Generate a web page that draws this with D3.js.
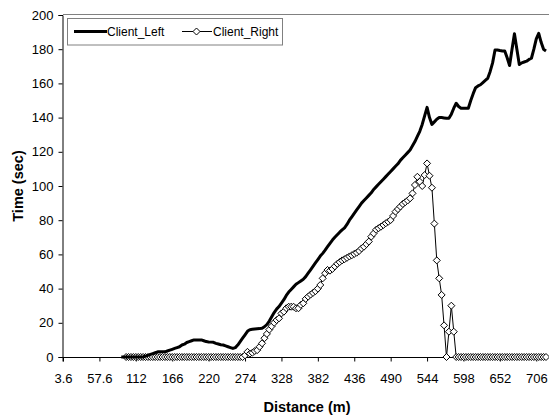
<!DOCTYPE html>
<html><head><meta charset="utf-8">
<script src="https://cdn.jsdelivr.net/npm/d3@7"></script>
<style>body{margin:0;background:#fff}svg{display:block}text{font-family:"Liberation Sans",Arial,sans-serif}</style>
</head><body><svg id="c" width="549" height="419"></svg>
<script>
// category distances (m): 3.6 .. 720 step 3.6 (200 categories)
const distances = [3.6,7.2,10.8,14.4,18,21.6,25.2,28.8,32.4,36,39.6,43.2,46.8,50.4,54,57.6,61.2,64.8,68.4,72,75.6,79.2,82.8,86.4,90,93.6,97.2,100.8,104.4,108,111.6,115.2,118.8,122.4,126,129.6,133.2,136.8,140.4,144,147.6,151.2,154.8,158.4,162,165.6,169.2,172.8,176.4,180,183.6,187.2,190.8,194.4,198,201.6,205.2,208.8,212.4,216,219.6,223.2,226.8,230.4,234,237.6,241.2,244.8,248.4,252,255.6,259.2,262.8,266.4,270,273.6,277.2,280.8,284.4,288,291.6,295.2,298.8,302.4,306,309.6,313.2,316.8,320.4,324,327.6,331.2,334.8,338.4,342,345.6,349.2,352.8,356.4,360,363.6,367.2,370.8,374.4,378,381.6,385.2,388.8,392.4,396,399.6,403.2,406.8,410.4,414,417.6,421.2,424.8,428.4,432,435.6,439.2,442.8,446.4,450,453.6,457.2,460.8,464.4,468,471.6,475.2,478.8,482.4,486,489.6,493.2,496.8,500.4,504,507.6,511.2,514.8,518.4,522,525.6,529.2,532.8,536.4,540,543.6,547.2,550.8,554.4,558,561.6,565.2,568.8,572.4,576,579.6,583.2,586.8,590.4,594,597.6,601.2,604.8,608.4,612,615.6,619.2,622.8,626.4,630,633.6,637.2,640.8,644.4,648,651.6,655.2,658.8,662.4,666,669.6,673.2,676.8,680.4,684,687.6,691.2,694.8,698.4,702,705.6,709.2,712.8,716.4,720];
const tickLabels = ["3.6","57.6","112","166","220","274","328","382","436","490","544","598","652","706"];
const yTicks = [0,20,40,60,80,100,120,140,160,180,200];
const N = null;
const clientLeft = [
N,N,N,N,N,N,N,N,N,N,N,N,N,N,N,N,N,N,N,N,N,N,N,N,
0,0,0,0,0,0,0,0,0,0,0.5,1,1.5,2,2.5,3,
3,3,3,3.5,4,4.5,5,5.5,6,7,
7.5,8.5,9,9.5,10,10,10,10,9.5,9,
8.8,8.7,8.6,8,7.6,7.2,7,6.5,6,5.5,
5,5.5,7,9,11,13,15,16,16.2,16.4,
16.5,16.6,16.8,17.7,19,21,23.5,26,28,29.5,
31.5,33.5,36,38,39.5,41,42.5,43.5,44.5,45.5,
47,49,51,53,55,57,59,60.6,62.5,64.5,
66.5,68.4,70,71.5,73,74.3,75.5,77.5,80,82,
84,86,88,90,91.5,93,94.5,96,98,99.5,
101,102.5,104,105.5,107,108.5,110,111.5,113,115,
116.5,118,119.5,121,123.5,126,129,132,136,141,
146,140,136,137.5,139,140,140,139.8,139.6,139.6,
142,145.5,148.4,146.5,145.5,145.5,145.5,145.5,150,154,
157.5,158.5,159.2,160.5,161.8,163,167,172,179.5,179.5,
179.2,179,179,175,170.5,180,189,180,171,172,
172.5,173,174,174.7,180,186,189.3,184,180,179];
const clientRight = [
N,N,N,N,N,N,N,N,N,N,N,N,N,N,N,N,N,N,N,N,N,N,N,N,N,N,
0,0,0,0,0,0,0,0,0,0,0,0,0,0,
0,0,0,0,0,0,0,0,0,0,
0,0,0,0,0,0,0,0,0,0,
0,0,0,0,0,0,0,0,0,0,
0,0,0,0,0,1,3,2,2.5,3.5,
4,6,8,11,13.5,16,18,20,21.6,22.6,
25.5,26.5,28.5,29.4,29.4,29.4,28.5,28.5,30.5,31.4,
34,35.3,36.5,37.5,38.5,40,42.1,46,49,50.9,
50.5,51.5,53,54.5,55.5,56.5,57.2,58,58.8,59.5,
60.3,61,62,63.5,64.5,66,67.5,70.4,72.3,74.4,
75.3,76.2,77.2,78.2,79.1,80.1,82.5,85,86.5,88,
89.5,90.5,91.5,92.8,95.7,100.6,105.4,102.5,100,106.4,
113.2,106,99,78,56.5,46,36.3,18.5,0,14.8,
30,14.8,0,0,0,0,0,0,0,0,
0,0,0,0,0,0,0,0,0,0,
0,0,0,0,0,0,0,0,0,0,
0,0,0,0,0,0,0,0,0,0];

const svg = d3.select("#c");
const pLeft = 63, pRight = 546, pTop = 15, pBottom = 357;
const x = d3.scalePoint().domain(distances.map(String)).range([pLeft, pRight]);
const y = d3.scaleLinear().domain([0, 200]).range([pBottom, pTop]);

// plot border top
svg.append("line").attr("x1", pLeft).attr("x2", 549).attr("y1", 14.5).attr("y2", 14.5).attr("stroke", "#808080");

// y axis
const yAxis = d3.axisLeft(y).tickValues(yTicks).tickSize(4).tickPadding(5);
const gy = svg.append("g").attr("transform", `translate(${pLeft - 0.5},0)`).call(yAxis);
gy.select(".domain").attr("stroke", "#000");
gy.selectAll(".tick line").attr("stroke", "#000");
gy.selectAll("text").attr("font-size", "13px").attr("fill", "#000").attr("font-family", "Liberation Sans, Arial, sans-serif");

// x axis
const tickCats = distances.filter((d, i) => i % 15 === 0).map(String);
const xAxis = d3.axisBottom(x).tickValues(tickCats).tickSize(4).tickPadding(12)
  .tickFormat((d, i) => tickLabels[i]);
const gx = svg.append("g").attr("transform", `translate(0,${pBottom + 0.5})`).call(xAxis);
gx.select(".domain").attr("d", `M${pLeft},4V0H549`).attr("stroke", "#000");
gx.selectAll(".tick line").attr("stroke", "#000");
gx.selectAll("text").attr("font-size", "13px").attr("fill", "#000").attr("font-family", "Liberation Sans, Arial, sans-serif");

// axis titles
svg.append("text").attr("x", 307).attr("y", 412).attr("text-anchor", "middle")
  .attr("font-size", "14.5px").attr("font-weight", "bold").text("Distance (m)");
svg.append("text").attr("transform", "translate(23,186) rotate(-90)").attr("text-anchor", "middle")
  .attr("font-size", "14.5px").attr("font-weight", "bold").text("Time (sec)");

const idx = distances.map((d, i) => i);
const line = (arr) => d3.line().defined(i => arr[i] !== null)
  .x(i => x(String(distances[i]))).y(i => y(arr[i]));

// Client_Right
svg.append("path").datum(idx).attr("d", line(clientRight)).attr("fill", "none").attr("stroke", "#000").attr("stroke-width", 1);
const rhombus = { draw(ctx, size) { const r = Math.sqrt(size) / 2; ctx.moveTo(0, -r); ctx.lineTo(r, 0); ctx.lineTo(0, r); ctx.lineTo(-r, 0); ctx.closePath(); } };
const diamond = d3.symbol().type(rhombus).size(49);
svg.append("g").selectAll("path").data(idx.filter(i => clientRight[i] !== null)).join("path")
  .attr("d", diamond)
  .attr("transform", i => `translate(${x(String(distances[i]))},${y(clientRight[i])})`)
  .attr("fill", "#fff").attr("stroke", "#000").attr("stroke-width", 1);

// Client_Left
svg.append("path").datum(idx).attr("d", line(clientLeft)).attr("fill", "none").attr("stroke", "#000")
  .attr("stroke-width", 3).attr("stroke-linejoin", "round");

// legend
const lg = svg.append("g");
lg.append("rect").attr("x", 67.5).attr("y", 18.5).attr("width", 215).attr("height", 26.5)
  .attr("fill", "#fff").attr("stroke", "#808080");
lg.append("line").attr("x1", 74).attr("x2", 107).attr("y1", 31.5).attr("y2", 31.5).attr("stroke", "#000").attr("stroke-width", 3);
lg.append("text").attr("x", 107).attr("y", 36).attr("font-size", "12px").text("Client_Left");
lg.append("line").attr("x1", 182).attr("x2", 212).attr("y1", 31.5).attr("y2", 31.5).attr("stroke", "#000").attr("stroke-width", 1);
lg.append("path").attr("d", diamond).attr("transform", "translate(196.5,31.5)").attr("fill", "#fff").attr("stroke", "#000");
lg.append("text").attr("x", 213).attr("y", 36).attr("font-size", "12px").text("Client_Right");
</script></body></html>
